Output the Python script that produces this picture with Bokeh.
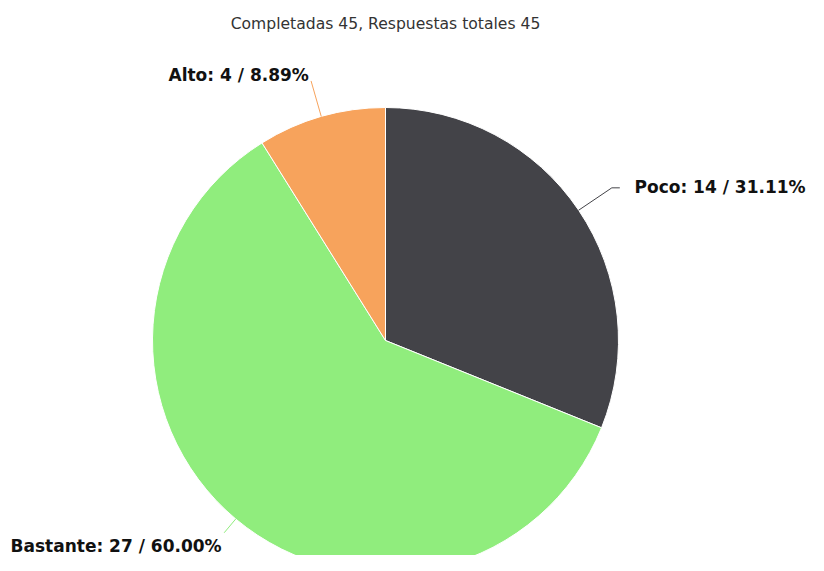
import math
from bokeh.plotting import figure
from bokeh.models import Range1d, ColumnDataSource
from bokeh.core.properties import value
from bokeh.embed import file_html
from bokeh.resources import INLINE

# ---- data ----
categories = ["Poco", "Bastante", "Alto"]
counts = [14, 27, 4]
percent_labels = ["31.11%", "60.00%", "8.89%"]
colors = ["#434348", "#90ed7d", "#f7a35c"]
title_text = "Completadas 45, Respuestas totales 45"

# ---- layout (picture pixel coordinates, y downward) ----
W, H = 808, 555
CX, CY = 385, 340
R = 233
conn_lens = [40, 18, 37]
# label anchor (left x, middle y) in pixels
label_pos = [(634, 186), (10, 545), (168, 74)]

p = figure(width=W, height=H, output_backend="svg", toolbar_location=None,
           x_range=Range1d(0, W), y_range=Range1d(-H, 0),
           min_border=0, tools="")
p.axis.visible = False
p.grid.visible = False
p.outline_line_color = None
p.background_fill_color = "white"
p.border_fill_color = "white"

total = sum(counts)
starts, ends, mids = [], [], []
acc = 0
for c in counts:
    s = 90 - acc / total * 360
    e = s - c / total * 360
    starts.append(math.radians(s))
    ends.append(math.radians(e))
    mids.append(math.radians((s + e) / 2))
    acc += c

src = ColumnDataSource(dict(x=[CX] * len(counts), y=[-CY] * len(counts),
                            start=starts, end=ends, color=colors))
p.wedge(x="x", y="y", radius=R, radius_units="screen", start_angle="start",
        end_angle="end", direction="clock", fill_color="color",
        line_color="white", line_width=1, source=src)

for i, cat in enumerate(categories):
    m = mids[i]
    L = conn_lens[i]
    ex, ey = CX + R * math.cos(m), CY - R * math.sin(m)
    ox, oy = CX + (R + L) * math.cos(m), CY - (R + L) * math.sin(m)
    xs, ys = [ex, ox], [ey, oy]
    if math.cos(m) > 0.3:
        xs.append(ox + 8)
        ys.append(oy)
    p.line(xs, [-v for v in ys], line_color=colors[i], line_width=1)
    lx, ly = label_pos[i]
    p.text(x=[lx], y=[-ly], text=[f"{cat}: {counts[i]} / {percent_labels[i]}"],
           text_font=value("DejaVu Sans"), text_font_style="bold",
           text_font_size="17px", text_color="#111111",
           text_align="left", text_baseline="middle")

p.text(x=[CX], y=[-23], text=[title_text], text_font=value("DejaVu Sans"),
       text_font_size="15.6px", text_color="#333333", text_align="center",
       text_baseline="middle")

open("out.html", "w").write(file_html(p, INLINE))
